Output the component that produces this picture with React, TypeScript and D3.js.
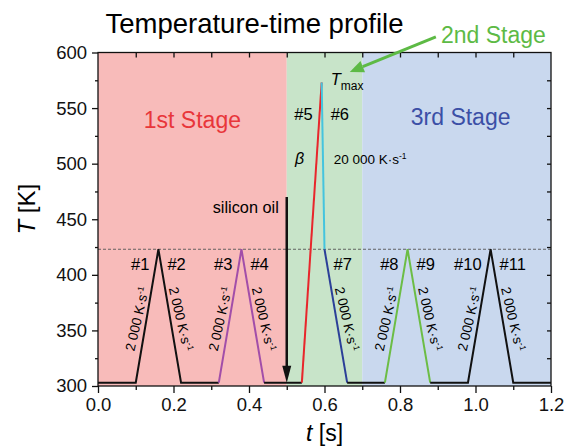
import React, { useEffect, useRef } from "react";
import * as d3 from "d3";

// stages (time ranges)
const stageStarts = [0, 0.5, 0.7];
const stageEnds = [0.5, 0.7, 1.2];
const stageNames = ["1st Stage", "2nd Stage", "3rd Stage"];

// temperature profile, split into coloured pieces
const segmentTimes = [
  [0, 0.1, 0.16, 0.22, 0.32],
  [0.32, 0.38, 0.44],
  [0.44, 0.54],
  [0.54, 0.5925],
  [0.5925, 0.6],
  [0.6, 0.66],
  [0.66, 0.76],
  [0.76, 0.82, 0.88],
  [0.88, 0.98, 1.04, 1.1, 1.2],
];
const segmentTemps = [
  [303, 303, 423, 303, 303],
  [303, 423, 303],
  [303, 303],
  [303, 573],
  [573, 423],
  [423, 303],
  [303, 303],
  [303, 423, 303],
  [303, 303, 423, 303, 303],
];

// ramps #1..#11
const rampNames = ["#1", "#2", "#3", "#4", "#5", "#6", "#7", "#8", "#9", "#10", "#11"];
const rampFrom = [0.1, 0.16, 0.32, 0.38, 0.54, 0.5925, 0.6, 0.76, 0.82, 0.98, 1.04];
const rampTo = [0.16, 0.22, 0.38, 0.44, 0.5925, 0.6, 0.66, 0.82, 0.88, 1.04, 1.1];
const rampTFrom = [303, 423, 303, 423, 303, 573, 423, 303, 423, 303, 423];
const rampTTo = [423, 303, 423, 303, 573, 423, 303, 423, 303, 423, 303];
const rampRates = ["2 000", "2 000", "2 000", "2 000", "", "", "2 000", "2 000", "2 000", "2 000", "2 000"];

const xTicks = [0, 0.2, 0.4, 0.6, 0.8, 1.0, 1.2];
const yTicks = [300, 350, 400, 450, 500, 550, 600];
const peakLevel = 423;

const stageColors = ["#f8bbba", "#c8e4c9", "#c9d8ee"];
const stageTextColors = ["#e8363a", "#5dba45", "#3b4fa6"];
const segmentColors = ["#111", "#a24ea9", "#111", "#e8262b", "#45c4de", "#2b3f98", "#111", "#6cbd45", "#111"];

const FONT = "Arial, 'Liberation Sans', sans-serif";

const App = () => {
  const ref = useRef<SVGSVGElement>(null);
  const width = 565;
  const height = 446;
  const margin = { top: 52.5, right: 14, bottom: 60, left: 98 };

  useEffect(() => {
    const svg = d3.select(ref.current);
    svg.selectAll("*").remove();

    const x = d3.scaleLinear().domain([0, 1.2]).range([margin.left, width - margin.right]);
    const y = d3.scaleLinear().domain([300, 600]).range([height - margin.bottom, margin.top]);

    // stage backgrounds
    svg
      .selectAll("rect.stage")
      .data(stageStarts)
      .enter()
      .append("rect")
      .attr("x", (d) => x(d))
      .attr("y", y(600))
      .attr("width", (d, i) => x(stageEnds[i]) - x(d))
      .attr("height", y(300) - y(600))
      .attr("fill", (d, i) => stageColors[i]);

    // dashed peak level
    svg
      .append("line")
      .attr("x1", x(0))
      .attr("x2", x(1.2))
      .attr("y1", y(peakLevel))
      .attr("y2", y(peakLevel))
      .attr("stroke", "#555")
      .attr("stroke-width", 0.9)
      .attr("stroke-dasharray", "3,2");

    // profile
    const line = d3
      .line<[number, number]>()
      .x((d) => x(d[0]))
      .y((d) => y(d[1]));
    segmentTimes.forEach((ts, i) => {
      svg
        .append("path")
        .attr("d", line(ts.map((t, j) => [t, segmentTemps[i][j]] as [number, number])))
        .attr("fill", "none")
        .attr("stroke", segmentColors[i])
        .attr("stroke-width", 2)
        .attr("stroke-linejoin", "miter");
    });

    // axes
    const styleAxis = (g) => {
      g.select(".domain").remove();
      g.selectAll("line").attr("stroke", "#111").attr("stroke-width", 1.3);
      g.selectAll("text").attr("font-size", 18.5).attr("font-family", FONT).attr("fill", "#111");
    };
    svg
      .append("g")
      .attr("transform", `translate(0,${y(300)})`)
      .call(d3.axisBottom(x).tickValues(xTicks).tickSize(7).tickPadding(5).tickFormat(d3.format(".1f")))
      .call(styleAxis);
    svg
      .append("g")
      .attr("transform", `translate(0,${y(300)})`)
      .call(d3.axisBottom(x).tickValues(xTicks.slice(1).map((d) => d - 0.1)).tickSize(4).tickFormat(() => ""))
      .call(styleAxis);
    svg
      .append("g")
      .attr("transform", `translate(${x(0)},0)`)
      .call(d3.axisLeft(y).tickValues(yTicks).tickSize(6).tickPadding(5))
      .call(styleAxis);
    svg
      .append("g")
      .attr("transform", `translate(${x(0)},0)`)
      .call(d3.axisLeft(y).tickValues(yTicks.slice(1).map((d) => d - 25)).tickSize(3).tickFormat(() => ""))
      .call(styleAxis);
    svg
      .append("g")
      .attr("transform", `translate(0,${y(600)})`)
      .call(d3.axisTop(x).tickValues(d3.range(0.1, 1.15, 0.1)).tickSize(-5).tickFormat(() => ""))
      .call(styleAxis);
    svg
      .append("g")
      .attr("transform", `translate(${x(1.2)},0)`)
      .call(d3.axisRight(y).tickValues(d3.range(325, 600, 25)).tickSize(-4).tickFormat(() => ""))
      .call(styleAxis);
    svg
      .append("rect")
      .attr("x", x(0))
      .attr("y", y(600))
      .attr("width", x(1.2) - x(0))
      .attr("height", y(300) - y(600))
      .attr("fill", "none")
      .attr("stroke", "#111")
      .attr("stroke-width", 1.3);

    // axis titles
    const yl = svg
      .append("text")
      .attr("transform", `translate(35,${(y(300) + y(600)) / 2 - 10}) rotate(-90)`)
      .attr("text-anchor", "middle")
      .attr("font-size", 24)
      .attr("font-family", FONT);
    yl.append("tspan").attr("font-style", "italic").text("T");
    yl.append("tspan").text(" [K]");
    const xl = svg
      .append("text")
      .attr("x", (x(0) + x(1.2)) / 2)
      .attr("y", 441)
      .attr("text-anchor", "middle")
      .attr("font-size", 23)
      .attr("font-family", FONT);
    xl.append("tspan").attr("font-style", "italic").text("t");
    xl.append("tspan").text(" [s]");

    // title
    svg
      .append("text")
      .attr("x", 254.5)
      .attr("y", 33)
      .attr("text-anchor", "middle")
      .attr("font-size", 27.5)
      .attr("font-family", FONT)
      .text("Temperature-time profile");

    // stage labels
    svg
      .append("text")
      .attr("x", (x(stageStarts[0]) + x(stageEnds[0])) / 2)
      .attr("y", 128)
      .attr("text-anchor", "middle")
      .attr("font-size", 23)
      .attr("font-family", FONT)
      .attr("fill", stageTextColors[0])
      .text(stageNames[0]);
    svg
      .append("text")
      .attr("x", (x(stageStarts[2]) + x(stageEnds[2])) / 2 + 4)
      .attr("y", 125)
      .attr("text-anchor", "middle")
      .attr("font-size", 23)
      .attr("font-family", FONT)
      .attr("fill", stageTextColors[2])
      .text(stageNames[2]);
    svg
      .append("text")
      .attr("x", 441)
      .attr("y", 43)
      .attr("font-size", 23)
      .attr("font-family", FONT)
      .attr("fill", stageTextColors[1])
      .text(stageNames[1]);

    // 2nd stage arrow
    const ax0 = x(0.895), ay0 = y(614), ax1 = x(0.667), ay1 = y(582.5);
    const ang = Math.atan2(ay1 - ay0, ax1 - ax0);
    const hl = 14, hw = 6;
    const bx = ax1 - hl * Math.cos(ang), by = ay1 - hl * Math.sin(ang);
    svg
      .append("line")
      .attr("x1", ax0).attr("y1", ay0).attr("x2", bx).attr("y2", by)
      .attr("stroke", stageTextColors[1]).attr("stroke-width", 3);
    svg
      .append("polygon")
      .attr("points", [
        [ax1, ay1],
        [bx + hw * Math.sin(ang), by - hw * Math.cos(ang)],
        [bx - hw * Math.sin(ang), by + hw * Math.cos(ang)],
      ].map((p) => p.join(",")).join(" "))
      .attr("fill", stageTextColors[1]);

    // Tmax
    const tm = svg
      .append("text")
      .attr("x", x(0.5925) + 9)
      .attr("y", 85)
      .attr("font-family", FONT)
      .attr("font-size", 16.5);
    tm.append("tspan").attr("font-style", "italic").text("T");
    tm.append("tspan").attr("font-size", 12).attr("dy", 4.5).text("max");

    // silicon oil arrow
    const sx = x(0.5);
    svg
      .append("line")
      .attr("x1", sx).attr("x2", sx).attr("y1", y(470)).attr("y2", y(303) - 14)
      .attr("stroke", "#111").attr("stroke-width", 2.5);
    svg
      .append("polygon")
      .attr("points", `${sx},${y(303)} ${sx - 4.5},${y(303) - 17} ${sx + 4.5},${y(303) - 17}`)
      .attr("fill", "#111");
    svg
      .append("text")
      .attr("x", sx - 8)
      .attr("y", 213)
      .attr("text-anchor", "end")
      .attr("font-size", 16.3)
      .attr("font-family", FONT)
      .text("silicon oil");

    // ramp numbers
    rampNames.forEach((name, i) => {
      const rising = rampTTo[i] > rampTFrom[i];
      const peakT = Math.max(rampTFrom[i], rampTTo[i]);
      const px = rising ? x(rampTo[i]) - 9 : x(rampFrom[i]) + 9;
      const py = peakT > 500 ? y(peakT) + 37 : y(peakT) + 21;
      svg
        .append("text")
        .attr("x", px)
        .attr("y", py)
        .attr("text-anchor", rising ? "end" : "start")
        .attr("font-size", 16.5)
        .attr("font-family", FONT)
        .text(name);
    });

    // ramp rates
    rampRates.forEach((rate, i) => {
      if (!rate) return;
      const rising = rampTTo[i] > rampTFrom[i];
      const mx = (x(rampFrom[i]) + x(rampTo[i])) / 2 + (rising ? -10 : 11);
      const my = (y(rampTFrom[i]) + y(rampTTo[i])) / 2 + 3;
      const t = svg
        .append("text")
        .attr("transform", `translate(${mx},${my}) rotate(${rising ? -77 : 77})`)
        .attr("text-anchor", "middle")
        .attr("dy", "0.35em")
        .attr("font-size", 13.5)
        .attr("font-family", FONT);
      t.append("tspan").text(`${rate} K\u00b7s`);
      t.append("tspan").attr("font-size", 8.5).attr("dy", -5).text("-1");
    });

    // beta and fast cooling rate
    svg
      .append("text")
      .attr("x", x(0.5925) - 22)
      .attr("y", 164)
      .attr("text-anchor", "middle")
      .attr("font-size", 16)
      .attr("font-style", "italic")
      .attr("font-family", FONT)
      .text("\u03b2");
    const fr = svg
      .append("text")
      .attr("x", x(0.5925) + 12)
      .attr("y", 164)
      .attr("font-size", 13.5)
      .attr("font-family", FONT);
    fr.append("tspan").text("20 000 K\u00b7s");
    fr.append("tspan").attr("font-size", 8.5).attr("dy", -5).text("-1");
  }, []);

  return (
    <svg
      ref={ref}
      width={width}
      height={height}
      style={{ position: "absolute", left: 0, top: 0, background: "#fff" }}
    />
  );
};

export default App;
